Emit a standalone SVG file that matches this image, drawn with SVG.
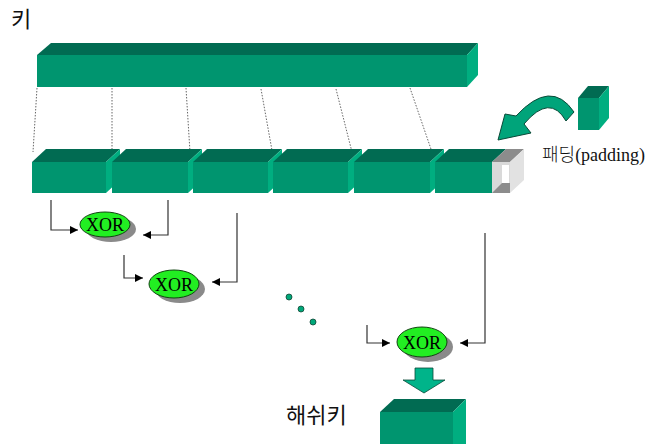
<svg xmlns="http://www.w3.org/2000/svg" width="649" height="444" viewBox="0 0 649 444">
<defs>
<style>
.front{fill:#00956f}
.top{fill:#016b52}
.side{fill:#00ae80}
.guide{stroke:#666;stroke-width:1;stroke-dasharray:1.5 1.5;fill:none}
.conn{stroke:#333;stroke-width:1.2;fill:none}
.xor{fill:#22ee22;stroke:#114411;stroke-width:1}
.shadow{fill:#8a8a8a}
.xt{font-family:"Liberation Serif",serif;font-size:18px;fill:#000;text-anchor:middle}
.dot{fill:#00a87a;stroke:#114433;stroke-width:0.8}
.lbl{font-family:"Noto Sans CJK KR",sans-serif;fill:#111}
</style>
<marker id="ah" viewBox="0 0 10 10" refX="10" refY="5" markerWidth="8" markerHeight="8" orient="auto" markerUnits="userSpaceOnUse">
<path d="M0,0 L10,5 L0,10 Z" fill="#000"/>
</marker>
</defs>
<rect width="649" height="444" fill="#fff"/>

<text id="key-label" class="lbl" x="11" y="27" font-size="22">키</text>

<g id="key-bar">
<polygon class="top" points="37,55 51,43 478,43 467,55"/>
<rect class="front" x="37" y="55" width="430" height="32"/>
<polygon class="side" points="467,55 478,43 478,75 467,87"/>
</g>

<g id="guides">
<line class="guide" x1="37" y1="88" x2="33" y2="152"/>
<line class="guide" x1="112" y1="88" x2="112" y2="152"/>
<line class="guide" x1="186" y1="88" x2="190" y2="152"/>
<line class="guide" x1="261" y1="89" x2="273" y2="156"/>
<line class="guide" x1="336" y1="89" x2="353" y2="156"/>
<line class="guide" x1="410" y1="88" x2="432" y2="152"/>
</g>

<g id="block1">
<polygon class="top" points="32,162 46,149 120,149 106,162"/>
<rect class="front" x="32" y="162" width="74" height="31"/>
<polygon class="side" points="106,162 120,149 120,180 106,193"/>
</g>
<g id="block2">
<polygon class="top" points="112,162 126,149 202,149 188,162"/>
<rect class="front" x="112" y="162" width="76" height="31"/>
<polygon class="side" points="188,162 202,149 202,180 188,193"/>
</g>
<g id="block3">
<polygon class="top" points="193,162 207,149 282,149 268,162"/>
<rect class="front" x="193" y="162" width="75" height="31"/>
<polygon class="side" points="268,162 282,149 282,180 268,193"/>
</g>
<g id="block4">
<polygon class="top" points="273,162 287,149 362,149 348,162"/>
<rect class="front" x="273" y="162" width="75" height="31"/>
<polygon class="side" points="348,162 362,149 362,180 348,193"/>
</g>
<g id="block5">
<polygon class="top" points="354,162 368,149 444,149 430,162"/>
<rect class="front" x="354" y="162" width="76" height="31"/>
<polygon class="side" points="430,162 444,149 444,180 430,193"/>
</g>
<g id="block6">
<polygon class="top" points="435,162 449,149 506,149 492,162"/>
<rect class="front" x="435" y="162" width="57" height="31"/>
</g>
<g id="padding-slot">
<polygon points="492,162 506,149 524,149 510,162" fill="#8c8c8c"/>
<rect x="492" y="162" width="18" height="31" fill="#d9d9d9"/>
<polygon points="510,162 524,149 524,180 510,193" fill="#e2e2e2"/>
<rect x="502" y="165" width="7" height="18" fill="#fff"/>
<polygon points="492,193 502,183 510,183 510,193" fill="#8c8c8c"/>
</g>

<g id="padding-cube">
<polygon class="top" points="578,98 588,86 609,86 599,98"/>
<rect class="front" x="578" y="98" width="21" height="32"/>
<polygon class="side" points="599,98 609,86 609,118 599,130"/>
</g>
<g id="padding-arrow">
<path d="M 574 112 Q 551 78 516 116 L 505 114 L 498 140 L 531 133 L 524 124 Q 550 93 566 121 Z" fill="#00a47a" stroke="#0a4a38" stroke-width="1"/>
</g>
<text id="padding-label" x="542" y="161" font-size="18" fill="#111"><tspan font-family="Noto Sans CJK KR,sans-serif" font-weight="300">패딩</tspan><tspan font-family="Liberation Serif,serif">(padding)</tspan></text>

<g id="xor1">
<ellipse class="shadow" cx="111" cy="229" rx="25" ry="13"/>
<ellipse class="xor" cx="105" cy="224.5" rx="25" ry="12.5"/>
<text class="xt" x="105" y="231">XOR</text>
</g>
<g id="xor2">
<ellipse class="shadow" cx="180" cy="289" rx="25" ry="14"/>
<ellipse class="xor" cx="174" cy="284" rx="25" ry="14"/>
<text class="xt" x="174" y="290.5">XOR</text>
</g>
<g id="xor3">
<ellipse class="shadow" cx="428" cy="347" rx="25" ry="15"/>
<ellipse class="xor" cx="422" cy="342" rx="25" ry="15"/>
<text class="xt" x="422" y="348.5">XOR</text>
</g>

<g id="connectors">
<polyline class="conn" points="51,200 51,230 78,230" marker-end="url(#ah)"/>
<polyline class="conn" points="168,200 168,235 143,235" marker-end="url(#ah)"/>
<polyline class="conn" points="124,255 124,278 143,278" marker-end="url(#ah)"/>
<polyline class="conn" points="237,213 237,282 212,282" marker-end="url(#ah)"/>
<polyline class="conn" points="367,325 367,343 390,343" marker-end="url(#ah)"/>
<polyline class="conn" points="485,233 485,343 460,343" marker-end="url(#ah)"/>
</g>

<g id="ellipsis-dots">
<circle class="dot" cx="289" cy="297" r="3"/>
<circle class="dot" cx="301" cy="309" r="3"/>
<circle class="dot" cx="313" cy="322" r="3"/>
</g>

<g id="result-arrow">
<polygon points="415,368 433,368 433,380 445,380 424,393 403,380 415,380" fill="#00b48a" stroke="#0a4a38" stroke-width="0.8"/>
</g>

<g id="hash-block">
<polygon class="top" points="380,412 394,399 466,399 453,412"/>
<rect class="front" x="380" y="412" width="73" height="40"/>
<polygon class="side" points="453,412 466,399 466,444 453,452"/>
</g>
<text id="hash-label" class="lbl" x="286" y="423" font-size="22">해쉬키</text>
</svg>
